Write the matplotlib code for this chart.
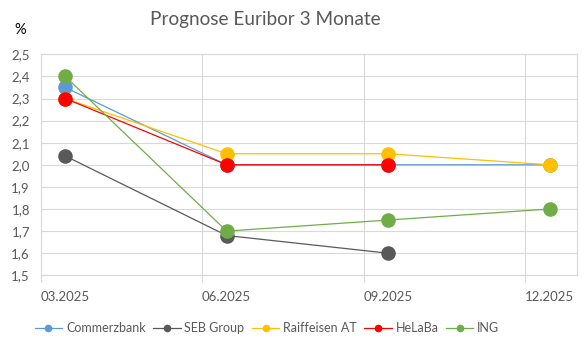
import numpy as np
import matplotlib.pyplot as plt
from matplotlib.ticker import FuncFormatter

plt.rcParams['font.family'] = ['Lato', 'DejaVu Sans']

# Data
quarters = ['03.2025', '06.2025', '09.2025', '12.2025']
commerzbank = [2.35, 2.00, 2.00, 2.00]
seb_group = [2.04, 1.68, 1.60, np.nan]
raiffeisen = [2.30, 2.05, 2.05, 2.00]
helaba = [2.30, 2.00, 2.00, np.nan]
ing = [2.40, 1.70, 1.75, 1.80]

series = [
    ('Commerzbank', commerzbank, '#5B9BD5'),
    ('SEB Group', seb_group, '#595959'),
    ('Raiffeisen AT', raiffeisen, '#FFC000'),
    ('HeLaBa', helaba, '#FF0000'),
    ('ING', ing, '#70AD47'),
]

text_col = '#595959'
grid_col = '#D9D9D9'

fig = plt.figure(figsize=(5.84, 3.43), dpi=100)
ax = fig.add_axes([41 / 584, 1 - 275.3 / 343, 536 / 584, 221 / 343])

x = np.arange(len(quarters))
handles = []
for name, vals, col in series:
    ax.plot(x, vals, '-', color=col, lw=0.9, zorder=3)
    ax.plot(x, vals, 'o', color=col, ms=10.5, mec='none', zorder=3)
    h, = ax.plot([], [], '-o', color=col, lw=0.9, ms=4.5, label=name)
    handles.append(h)

# axes
ax.set_ylim(1.5, 2.5)
ax.set_xlim(-0.15, 3.17)
ax.set_yticks(np.arange(1.5, 2.51, 0.1))
ax.yaxis.set_major_formatter(FuncFormatter(lambda v, p: f'{v:.1f}'.replace('.', ',')))
ax.grid(axis='y', color=grid_col, lw=0.8)
ax.tick_params(axis='y', length=0, pad=8, labelsize=9.5, labelcolor=text_col)

grid_x = [-0.15, 0.85, 1.85, 2.85]
ax.set_xticks(grid_x)
ax.set_xticklabels([''] * 4)
ax.tick_params(axis='x', which='major', length=5, color=grid_col, width=0.8)
ax.set_xticks(x, minor=True)
ax.set_xticklabels(quarters, minor=True)
ax.tick_params(axis='x', which='minor', length=0, pad=11, labelsize=9.5, labelcolor=text_col)
for gx in grid_x[1:]:
    ax.axvline(gx, color=grid_col, lw=0.8, zorder=1)

for s in ax.spines.values():
    s.set_color(grid_col)
    s.set_linewidth(0.8)

fig.text(265 / 584, 1 - 19 / 343, 'Prognose Euribor 3 Monate', ha='center', va='center',
         fontsize=13.7, color=text_col)
fig.text(20 / 584, 1 - 30 / 343, '%', ha='center', va='center', fontsize=10.5, color='black')

fig.legend(handles=handles, loc='center', bbox_to_anchor=(267 / 584, 1 - 328 / 343), ncol=5,
           frameon=False, fontsize=9, handlelength=2.2, handletextpad=0.3,
           columnspacing=0.6, labelcolor=text_col)

fig.savefig('out.png', dpi=100)
